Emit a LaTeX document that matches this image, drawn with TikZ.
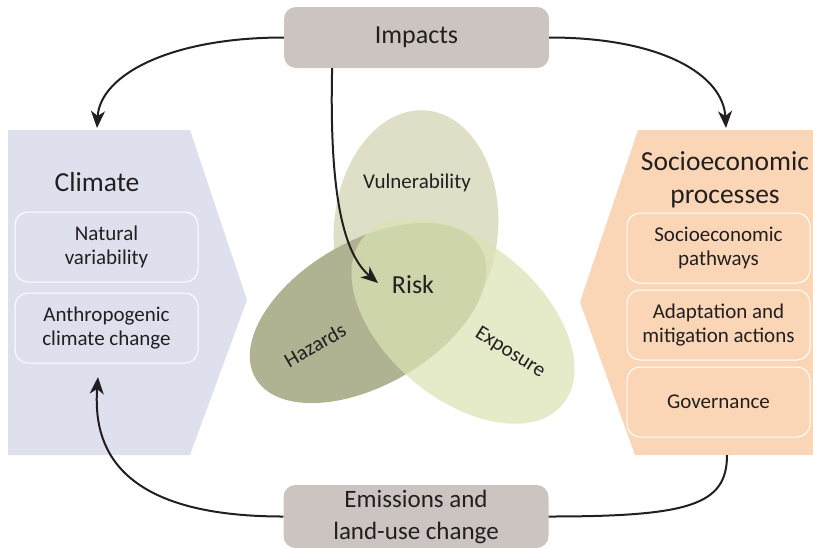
\documentclass[tikz,border=0pt]{standalone}
\usepackage{fontspec}
\setmainfont{Carlito}
\usetikzlibrary{arrows.meta}
\definecolor{climfill}{HTML}{DEE0EE}
\definecolor{sociofill}{HTML}{FBD6B6}
\definecolor{boxgray}{HTML}{CBC4C1}
\definecolor{vulfill}{HTML}{DFDFC8}
\definecolor{hazfill}{HTML}{B0B391}
\definecolor{expfill}{HTML}{DBE2B4}
\definecolor{ink}{HTML}{231F20}
\begin{document}
\begin{tikzpicture}[x=1pt,y=1pt,
  txt/.style={text=ink, font=\fontsize{21}{23.5}\selectfont, align=center},
  title/.style={text=ink, font=\fontsize{27.5}{33}\selectfont, align=center},
  innerbox/.style={draw=white, line width=1pt, rounded corners=13pt,
    minimum width=183pt, minimum height=70pt, inner sep=0pt, txt},
  graybox/.style={fill=boxgray, rounded corners=12pt, minimum width=265pt,
    minimum height=61pt, inner sep=0pt, align=center, text=ink},
  conn/.style={line width=2pt, ink},
  tipped/.style={-{Stealth[length=17pt,width=14pt,inset=5pt]}},
]
\useasboundingbox (0,0) rectangle (813,-547);
\clip (0,0) rectangle (813,-547);

% panels
\fill[climfill] (8,-130) -- (190,-130) -- (247,-300) -- (190,-455) -- (8,-455) -- cycle;
\fill[sociofill] (638,-130) -- (813,-130) -- (813,-455) -- (635,-455) -- (580,-302) -- cycle;

% climate panel content
\node[title] (clim) at (97,-182) {Climate};
\node[innerbox] (nat) at (106.5,-247) {Natural\\variability};
\node[innerbox] (anth) at (106.5,-328) {Anthropogenic\\climate change};

% socioeconomic panel content
\node[title] (socio) at (725,-180) {Socioeconomic\\processes};
\node[innerbox] (path) at (718.5,-248) {Socioeconomic\\pathways};
\node[innerbox] (adapt) at (718.5,-325) {Adaptation and\\mitigation actions};
\node[innerbox] (gov) at (718.5,-402) {Governance};

% risk ellipses
\fill[vulfill, rotate around={-5:(416,-228)}] (416,-228) ellipse [x radius=82, y radius=118];
\fill[hazfill, rotate around={30:(368,-313)}] (368,-313) ellipse [x radius=130, y radius=72];
\fill[expfill, fill opacity=0.73, rotate around={-40:(463,-321)}] (463,-321) ellipse [x radius=130, y radius=78];

\node[txt] (vul) at (417,-183) {Vulnerability};
\node[text=ink, font=\fontsize{26}{30}\selectfont] (risk) at (413,-285) {Risk};
\node[txt, rotate=30] (haz) at (315,-345) {Hazards};
\node[txt, rotate=-32] (exp) at (510,-353) {Exposure};

% gray boxes
\node[graybox, font=\fontsize{26}{30}\selectfont] (imp) at (416.5,-37.5) {Impacts};
\node[graybox, minimum height=63pt, font=\fontsize{25}{32}\selectfont] (emi) at (416,-516.5) {Emissions and\\land-use change};

% connector end points
\coordinate (ltip) at (97,-128);
\coordinate (rtip) at (726,-128);
\coordinate (risktip) at (378,-283);
\coordinate (btip) at (98,-377);
\coordinate (rend) at (727,-455);

% connectors
\draw[conn, tipped] (imp.west) .. controls (170,-37.5) and (100,-75) .. (ltip);
\draw[conn, tipped] (imp.east) .. controls (662,-37.5) and (723,-75) .. (rtip);
\draw[conn, tipped] (imp.200.5) .. controls (329,-200) and (345,-255) .. (risktip);
\draw[conn, tipped] (emi.west) .. controls (115,-516.5) and (93,-445) .. (btip);
\draw[conn] (emi.east) .. controls (690,-516.5) and (727,-505) .. (rend);
\end{tikzpicture}
\end{document}
